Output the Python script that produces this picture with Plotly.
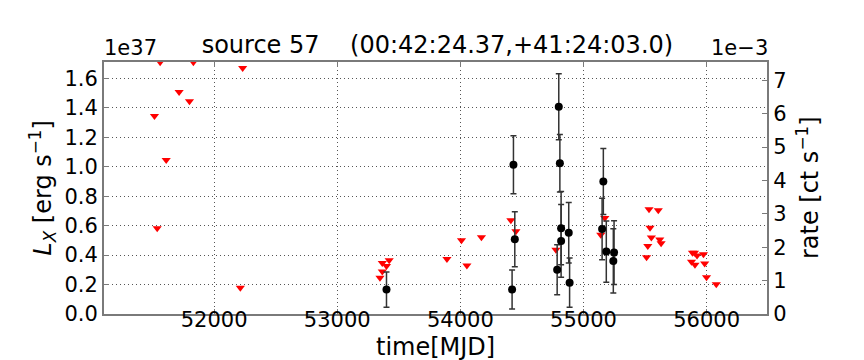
import plotly.graph_objects as go

# upper limits (red triangles) : MJD, L_X in 1e37 erg/s
lim_mjd = [51562, 51832, 52232, 51716, 51800, 51516, 51611, 51538, 52213,
           53347, 53366, 53400, 53366, 53422, 53891, 54009, 54053, 54171,
           54410, 54451, 54776, 55173, 55140,
           55532, 55607, 55540, 55551, 55619, 55630, 55522, 55512,
           55885, 55901, 55922, 55974, 55877, 55905, 55984, 55999, 56078]
lim_lx = [1.71, 1.71, 1.670, 1.507, 1.444, 1.344, 1.045, 0.583, 0.179,
          0.246, 0.289, 0.326, 0.347, 0.365, 0.374, 0.501, 0.329, 0.521,
          0.636, 0.561, 0.436, 0.651, 0.538,
          0.711, 0.704, 0.585, 0.519, 0.506, 0.481, 0.462, 0.385,
          0.416, 0.416, 0.397, 0.406, 0.355, 0.334, 0.343, 0.249, 0.202]

# detections (black points with errors)
det_mjd = [53400, 54431, 54442, 54420, 54799, 54808, 54818, 54818, 54786,
           54880, 54887, 55161, 55151, 55185, 55248, 55242]
det_lx = [0.166, 1.014, 0.508, 0.166, 1.407, 1.023, 0.583, 0.496, 0.300,
          0.552, 0.213, 0.900, 0.577, 0.424, 0.417, 0.360]
det_err = [0.120, 0.197, 0.187, 0.132, 0.224, 0.195, 0.249, 0.247, 0.170,
           0.205, 0.167, 0.224, 0.209, 0.208, 0.216, 0.218]

x_ticks = [52000, 53000, 54000, 55000, 56000]
lx_ticks = [0.0, 0.2, 0.4, 0.6, 0.8, 1.0, 1.2, 1.4, 1.6]
rate_ticks = [0, 1, 2, 3, 4, 5, 6, 7]

FONT = "DejaVu Sans"
FRAME = "#7a7a7a"
GRID = "#555555"

fig = go.Figure()

fig.add_trace(go.Scatter(
    x=lim_mjd, y=lim_lx, mode="markers",
    marker=dict(symbol="triangle-down", color="red", size=8),
    showlegend=False))

fig.add_trace(go.Scatter(
    x=det_mjd, y=det_lx, mode="markers",
    marker=dict(symbol="circle", color="black", size=8),
    error_y=dict(type="data", array=det_err, color="#333333",
                 thickness=1.5, width=3),
    showlegend=False))

# empty trace to carry the rate axis
fig.add_trace(go.Scatter(x=[None], y=[None], yaxis="y2", showlegend=False,
                         hoverinfo="skip"))

fig.update_layout(
    width=864, height=360,
    margin=dict(l=95.5, r=105, t=54, b=54),
    paper_bgcolor="white", plot_bgcolor="white",
    font=dict(family=FONT, size=21, color="black"),
    title=dict(text="source 57    (00:42:24.37,+41:24:03.0)",
               x=0.497, xanchor="center", y=1 - 37 / 360, yanchor="middle",
               font=dict(size=24)),
    xaxis=dict(range=[51106, 56490], tickvals=x_ticks, tickformat="d",
               showgrid=True, gridcolor=GRID, griddash="1px,3px", gridwidth=1,
               showline=True, linecolor=FRAME, linewidth=2, mirror="ticks",
               ticks="inside", ticklen=5, tickcolor=FRAME, zeroline=False,
               ticklabelposition="outside", ticklabelstandoff=-14),
    yaxis=dict(range=[0, 1.711], tickvals=lx_ticks, tickformat=".1f",
               showgrid=True, gridcolor=GRID, griddash="1px,3px", gridwidth=1,
               showline=True, linecolor=FRAME, linewidth=2,
               ticks="inside", ticklen=5, tickcolor=FRAME, zeroline=False),
    yaxis2=dict(range=[0, 7.55], tickvals=rate_ticks, overlaying="y",
                side="right", showgrid=False, zeroline=False,
                showline=True, linecolor=FRAME, linewidth=2,
                ticks="inside", ticklen=5, tickcolor=FRAME),
    annotations=[
        dict(text="1e37", xref="paper", yref="paper", x=-0.003, y=1.0,
             xanchor="left", yanchor="bottom", showarrow=False,
             font=dict(size=21)),
        dict(text="1e\u22123", xref="paper", yref="paper", x=1.005, y=1.0,
             xanchor="right", yanchor="bottom", showarrow=False,
             font=dict(size=21)),
        dict(text="time[MJD]", xref="paper", yref="paper", x=0.5, y=-0.13,
             xanchor="center", yanchor="middle", showarrow=False,
             font=dict(size=24)),
        dict(text="<i>L</i><sub><i>X</i></sub> [erg s<sup>\u22121</sup>]",
             xref="paper", yref="paper", x=-0.094, y=0.5, textangle=-90,
             xanchor="center", yanchor="middle", showarrow=False,
             font=dict(size=24)),
        dict(text="rate [ct s<sup>\u22121</sup>]",
             xref="paper", yref="paper", x=1.062, y=0.5, textangle=-90,
             xanchor="center", yanchor="middle", showarrow=False,
             font=dict(size=24)),
    ],
)

fig.write_html("out.html")
